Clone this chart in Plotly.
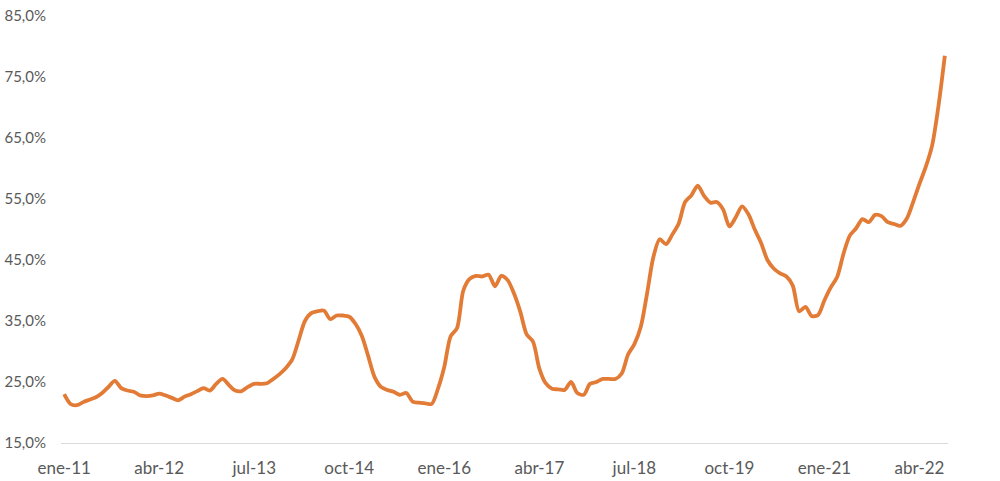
import plotly.graph_objects as go

months_es = ["ene", "feb", "mar", "abr", "may", "jun", "jul", "ago", "sep", "oct", "nov", "dic"]
categories = [f"{months_es[m]}-{y:02d}" for y in range(11, 23) for m in range(12)][:140]

values = [
    23.0, 21.4, 21.2, 21.7, 22.1, 22.5, 23.2, 24.2, 25.2, 24.0,
    23.6, 23.4, 22.8, 22.7, 22.8, 23.1, 22.8, 22.4, 22.0, 22.6,
    23.0, 23.5, 24.0, 23.6, 24.7, 25.5, 24.5, 23.6, 23.5, 24.2,
    24.7, 24.7, 24.8, 25.5, 26.3, 27.3, 28.7, 31.8, 35.0, 36.3,
    36.6, 36.7, 35.3, 35.9, 35.9, 35.7, 34.5, 32.5, 29.2, 25.8,
    24.2, 23.7, 23.4, 22.9, 23.2, 21.8, 21.6, 21.5, 21.4, 23.9,
    27.5, 32.5, 33.8, 40.0, 41.9, 42.4, 42.3, 42.6, 40.7, 42.4,
    41.7, 39.5, 36.5, 32.8, 31.6, 27.2, 24.8, 23.9, 23.8, 23.7,
    25.0, 23.2, 22.9, 24.7, 25.0, 25.5, 25.5, 25.5, 26.4, 29.5,
    31.2, 34.0, 39.5, 45.5, 48.4, 47.6, 49.2, 51.0, 54.5, 55.6,
    57.2, 55.5, 54.4, 54.5, 53.3, 50.5, 52.0, 53.8, 52.5, 50.0,
    47.8, 45.0, 43.6, 42.8, 42.3, 40.8, 36.6, 37.3, 35.8, 36.0,
    38.4, 40.5, 42.2, 46.0, 49.0, 50.2, 51.7, 51.2, 52.4, 52.2,
    51.2, 50.9, 50.6, 51.8, 54.5, 57.5, 60.3, 63.8, 70.3, 78.5,
]

tick_labels = ["ene-11", "abr-12", "jul-13", "oct-14", "ene-16",
               "abr-17", "jul-18", "oct-19", "ene-21", "abr-22"]
y_ticks = [15, 25, 35, 45, 55, 65, 75, 85]
y_tick_text = [f"{v:.1f}".replace(".", ",") + "%" for v in y_ticks]

fig = go.Figure()
fig.add_trace(go.Scatter(
    x=categories, y=values, mode="lines",
    line=dict(color="#E27B36", width=3.8, shape="spline", smoothing=0.8),
    hoverinfo="x+y", showlegend=False,
))

font_family = "Lato, Noto Sans, sans-serif"
fig.update_layout(
    width=1000, height=481,
    margin=dict(l=61, r=52, t=16, b=38, autoexpand=False),
    paper_bgcolor="white", plot_bgcolor="white",
    font=dict(family=font_family, size=15, color="#595959"),
)
fig.update_xaxes(
    type="category", categoryorder="array", categoryarray=categories,
    range=[-0.5, len(categories) - 0.5],
    tickmode="array", tickvals=tick_labels, ticktext=tick_labels,
    showgrid=False, zeroline=False, automargin=False,
    showline=True, linecolor="#D9D9D9", linewidth=1,
    ticks="outside", ticklen=10, tickcolor="rgba(0,0,0,0)",
    tickfont=dict(size=17, color="#595959"),
    ticklabeloverflow="allow",
)
fig.update_yaxes(
    range=[15, 85], tickmode="array", tickvals=y_ticks, ticktext=y_tick_text,
    showgrid=False, zeroline=False, showline=False, automargin=False,
    ticks="outside", ticklen=11, tickcolor="rgba(0,0,0,0)",
    tickfont=dict(size=15, color="#595959"),
    ticklabeloverflow="allow",
)

# remove the default 8px page margin so the figure fills the window exactly
fig.write_html(
    "out.html",
    config={"displayModeBar": False},
    post_script="document.body.style.margin='0px';document.body.style.overflow='hidden';",
)
